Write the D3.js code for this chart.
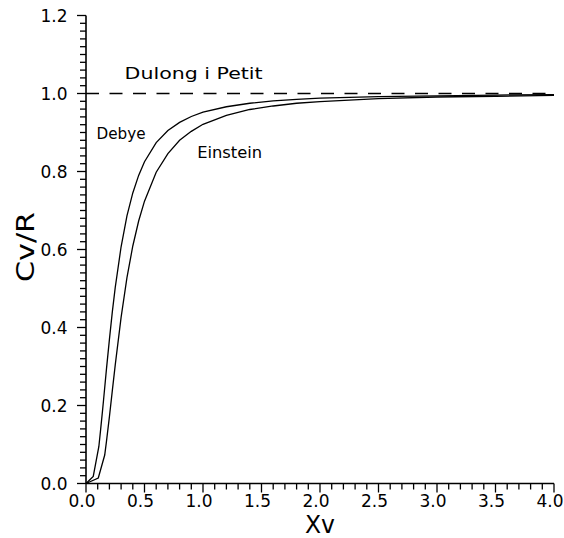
<!DOCTYPE html>
<html><head><meta charset="utf-8">
<script src="https://cdn.jsdelivr.net/npm/d3@7"></script>
<style>body{margin:0;background:#fff}svg{display:block}text{font-family:"DejaVu Sans",sans-serif;fill:#000}</style>
</head><body>
<svg id="c" width="564" height="538"></svg>
<script>
const xTicks = [0, 0.5, 1.0, 1.5, 2.0, 2.5, 3.0, 3.5, 4.0];
const yTicks = [0, 0.2, 0.4, 0.6, 0.8, 1.0, 1.2];
const xMinorStep = 0.1;
const yMinorStep = 0.02;
const debyeX = [0, 0.062, 0.11, 0.125, 0.14, 0.15, 0.175, 0.2, 0.225, 0.25, 0.3, 0.35, 0.4, 0.45, 0.5, 0.6, 0.7, 0.8, 0.9, 1.0, 1.2, 1.4, 1.6, 1.8, 2.0, 2.5, 3.0, 3.5, 4.0];
const debyeY = [0, 0.018, 0.095, 0.138, 0.183, 0.214, 0.294, 0.369, 0.44, 0.503, 0.607, 0.686, 0.745, 0.790, 0.825, 0.874, 0.905, 0.926, 0.941, 0.952, 0.966, 0.975, 0.981, 0.985, 0.988, 0.992, 0.994, 0.996, 0.997];
const einsteinX = [0, 0.105, 0.16, 0.175, 0.2, 0.225, 0.25, 0.3, 0.35, 0.4, 0.45, 0.5, 0.6, 0.7, 0.8, 0.9, 1.0, 1.2, 1.4, 1.6, 1.8, 2.0, 2.5, 3.0, 3.5, 4.0];
const einsteinY = [0, 0.014, 0.073, 0.108, 0.171, 0.238, 0.304, 0.426, 0.528, 0.609, 0.673, 0.724, 0.798, 0.846, 0.880, 0.903, 0.921, 0.944, 0.959, 0.968, 0.975, 0.979, 0.987, 0.991, 0.993, 0.995];
const limitY = 1.0;
const labels = [
  {text: "Dulong i Petit", x: 0.33, y: 1.037, len: 138},
  {text: "Debye", x: 0.09, y: 0.884, len: 49},
  {text: "Einstein", x: 0.95, y: 0.834, len: 65}
];

const svg = d3.select("#c");
const x = d3.scaleLinear().domain([0, 4]).range([86, 554]);
const y = d3.scaleLinear().domain([0, 1.2]).range([483.5, 15.5]);
const fmt = d3.format(".1f");

const xMinor = d3.range(0, Math.round(4 / xMinorStep) + 1).map(i => +(i * xMinorStep).toFixed(2));
const yMinor = d3.range(0, Math.round(1.2 / yMinorStep) + 1).map(i => +(i * yMinorStep).toFixed(2));

const axes = svg.append("g").attr("stroke", "#000");
// x ticks
axes.selectAll(".xm").data(xMinor).join("line")
  .attr("x1", d => x(d)).attr("x2", d => x(d))
  .attr("y1", y(0)).attr("y2", d => y(0) + (xTicks.some(t => Math.abs(t - d) < 1e-6) ? 9 : 6))
  .attr("stroke-width", 1.3);
// y ticks
axes.selectAll(".ym").data(yMinor).join("line")
  .attr("y1", d => y(d)).attr("y2", d => y(d))
  .attr("x1", x(0)).attr("x2", d => x(0) - (yTicks.some(t => Math.abs(t - d) < 1e-6) ? 9 : 6))
  .attr("stroke-width", 1.3);
// axis lines
axes.append("line").attr("x1", x(0)).attr("x2", x(4)).attr("y1", y(0)).attr("y2", y(0)).attr("stroke-width", 1.6);
axes.append("line").attr("x1", x(0)).attr("x2", x(0)).attr("y1", y(0)).attr("y2", y(1.2)).attr("stroke-width", 1.6);

svg.selectAll(".xl").data(xTicks).join("text")
  .attr("x", d => x(d) - 4).attr("y", 507).attr("text-anchor", "middle").attr("font-size", 17).text(fmt);
svg.selectAll(".yl").data(yTicks).join("text")
  .attr("x", 67.5).attr("y", d => y(d) + 6.5).attr("text-anchor", "end").attr("font-size", 17).text(fmt);

// dashed limit
svg.append("line")
  .attr("x1", x(0)).attr("x2", x(4)).attr("y1", y(limitY)).attr("y2", y(limitY))
  .attr("stroke", "#000").attr("stroke-width", 1.3).attr("stroke-dasharray", "13,10.5");

const line = d3.line().x(d => x(d[0])).y(d => y(d[1]));
svg.append("path").datum(debyeX.map((v, i) => [v, debyeY[i]]))
  .attr("d", line).attr("fill", "none").attr("stroke", "#000").attr("stroke-width", 1.3);
svg.append("path").datum(einsteinX.map((v, i) => [v, einsteinY[i]]))
  .attr("d", line).attr("fill", "none").attr("stroke", "#000").attr("stroke-width", 1.3);

labels.forEach(l => {
  svg.append("text").attr("x", x(l.x)).attr("y", y(l.y)).attr("font-size", 16)
    .attr("textLength", l.len).attr("lengthAdjust", "spacingAndGlyphs").text(l.text);
});

svg.append("text").attr("x", 305).attr("y", 533).attr("font-size", 24)
  .attr("textLength", 30).attr("lengthAdjust", "spacingAndGlyphs").text("Xv");
svg.append("text").attr("transform", "translate(33.5,247) rotate(-90)").attr("text-anchor", "middle")
  .attr("font-size", 24).attr("textLength", 70).attr("lengthAdjust", "spacingAndGlyphs").text("Cv/R");
</script>
</body></html>
